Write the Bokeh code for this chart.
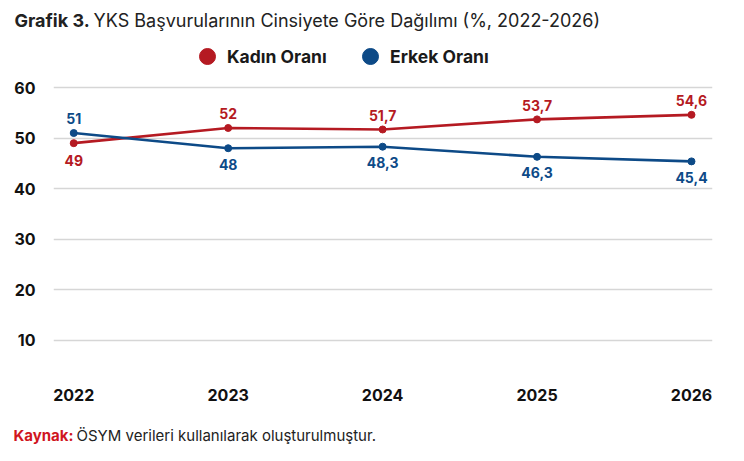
from bokeh.plotting import figure
from bokeh.layouts import column
from bokeh.models import ColumnDataSource, Label, Legend, LegendItem, FixedTicker, Range1d
from bokeh.embed import file_html
from bokeh.resources import INLINE

years = [2022, 2023, 2024, 2025, 2026]
kadin = [49, 52, 51.7, 53.7, 54.6]
erkek = [51, 48, 48.3, 46.3, 45.4]
kadin_labels = ["49", "52", "51,7", "53,7", "54,6"]
erkek_labels = ["51", "48", "48,3", "46,3", "45,4"]
y_ticks = [10, 20, 30, 40, 50, 60]

RED = "#B51A22"
BLUE = "#0D4A87"
FONT = "Inter"
W = 728


def blank(height):
    f = figure(width=W, height=height, output_backend="svg", toolbar_location=None,
               x_range=Range1d(0, W), y_range=Range1d(0, height),
               x_axis_type=None, y_axis_type=None,
               min_border_left=0, min_border_right=0, min_border_top=0, min_border_bottom=0)
    f.outline_line_color = None
    f.xgrid.visible = False
    f.ygrid.visible = False
    return f


# ---- header (title) ----
head = blank(40)
head.add_layout(Label(x=14, y=20, text="Grafik 3.", text_font=FONT, text_font_style="bold",
                      text_font_size="18px", text_color="#222222", text_baseline="middle"))
head.add_layout(Label(x=93, y=20, text="YKS Başvurularının Cinsiyete Göre Dağılımı (%, 2022-2026)",
                      text_font=FONT, text_font_size="18px", text_color="#222222", text_baseline="middle"))

# ---- main chart ----
p = figure(width=W, height=370, output_backend="svg", toolbar_location=None,
           x_range=Range1d(2021.869, 2026.136), y_range=Range1d(3.08, 69.29),
           min_border_left=53, min_border_right=16, min_border_top=0, min_border_bottom=35)
p.outline_line_color = None

p.xaxis.ticker = FixedTicker(ticks=years)
p.yaxis.ticker = FixedTicker(ticks=y_ticks)
for ax in (p.xaxis[0], p.yaxis[0]):
    ax.axis_line_color = None
    ax.major_tick_line_color = None
    ax.minor_tick_line_color = None
    ax.major_label_text_font = FONT
    ax.major_label_text_font_style = "bold"
    ax.major_label_text_font_size = "16px"
    ax.major_label_text_color = "#111111"
p.xaxis.major_label_standoff = 7
p.yaxis.major_label_standoff = 12
p.xgrid.grid_line_color = None
p.ygrid.grid_line_color = "#D6D6D6"
p.ygrid.grid_line_width = 1.5

src = ColumnDataSource(dict(x=years, k=kadin, e=erkek))

p.line("x", "k", source=src, line_color=RED, line_width=2.6)
rk = p.scatter("x", "k", source=src, size=7, fill_color=RED, line_color=RED)
p.line("x", "e", source=src, line_color=BLUE, line_width=2.6)
re_ = p.scatter("x", "e", source=src, size=7, fill_color=BLUE, line_color=BLUE)

ky_off = [-17, 14, 14, 14, 14]
ey_off = [15, -16, -16, -16, -16]
for i in range(len(years)):
    p.add_layout(Label(x=years[i], y=kadin[i], text=kadin_labels[i], y_offset=ky_off[i],
                       text_align="center", text_baseline="middle", text_color=RED,
                       text_font=FONT, text_font_style="bold", text_font_size="14px"))
    p.add_layout(Label(x=years[i], y=erkek[i], text=erkek_labels[i], y_offset=ey_off[i],
                       text_align="center", text_baseline="middle", text_color=BLUE,
                       text_font=FONT, text_font_style="bold", text_font_size="14px"))

for rend, lab, xloc in ((rk, "Kadın Oranı", 134), (re_, "Erkek Oranı", 297)):
    lg = Legend(items=[LegendItem(label=lab, renderers=[rend])],
                orientation="horizontal", location=(xloc, 299),
                label_text_font=FONT, label_text_font_style="bold", label_text_font_size="17.5px",
                label_text_color="#1A1A1A", border_line_color=None, background_fill_alpha=0,
                padding=0, margin=0, spacing=0, glyph_width=40, glyph_height=40, label_standoff=0)
    p.add_layout(lg, "center")

# ---- footer ----
foot = blank(35)
foot.add_layout(Label(x=13, y=10, text="Kaynak:", text_font=FONT, text_font_style="bold",
                      text_font_size="15px", text_color="#D0161E", text_baseline="middle"))
foot.add_layout(Label(x=76, y=10, text="ÖSYM verileri kullanılarak oluşturulmuştur.",
                      text_font=FONT, text_font_size="15px", text_color="#222222", text_baseline="middle"))

layout = column(column(head), p, column(foot), spacing=0)
open("out.html", "w").write(file_html(layout, INLINE))
